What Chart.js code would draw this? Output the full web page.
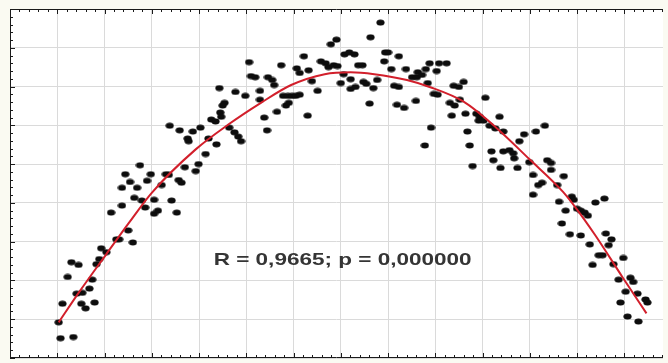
<!DOCTYPE html>
<html lang="en">
<head>
<meta charset="UTF-8">
<title>Scatter with quadratic fit</title>
<script src="https://cdn.jsdelivr.net/npm/chart.js"></script>
<style>
    body {
        margin: 0;
        padding: 0;
        background: #fafaf2;
    }
    canvas {
        display: block;
    }
</style>
</head>
<body>
<canvas id="fitChart" width="668" height="363"></canvas>
<script>
    // scatter points (grid step = 1 unit)
    const dotX = [
        1.03, 1.07, 1.34, 1.11, 1.51, 1.60, 1.79, 1.41, 1.53, 1.68,
        1.22, 1.74, 1.30, 1.45, 1.83, 1.89, 1.93, 2.04, 2.25, 2.31,
        2.50, 2.60, 2.14, 2.37, 2.37, 2.54, 2.63, 2.69, 2.79, 2.86,
        2.90, 3.05, 3.05, 3.13, 2.44, 2.75, 2.98, 3.21, 3.30, 3.36,
        3.42, 3.53, 3.57, 3.63, 3.70, 3.93, 3.99, 4.14, 3.38, 3.59,
        3.76, 3.78, 3.87, 4.03, 4.20, 4.37, 4.26, 4.35, 4.45, 4.47,
        4.54, 4.50, 4.43, 4.64, 4.75, 4.83, 4.89, 4.77, 4.98, 5.06,
        5.10, 5.19, 5.29, 5.29, 5.38, 5.44, 5.46, 5.55, 5.59, 5.65,
        5.74, 5.78, 5.88, 5.97, 6.05, 6.13, 5.84, 5.90, 6.07, 6.13,
        6.22, 6.32, 6.30, 6.39, 6.51, 6.58, 6.68, 6.74, 6.85, 6.93,
        6.79, 6.91, 7.00, 7.06, 7.08, 7.18, 7.29, 7.21, 7.21, 7.31,
        7.37, 7.46, 7.48, 7.54, 7.63, 7.84, 7.69, 7.77, 7.61, 7.94,
        8.00, 7.92, 8.07, 8.13, 8.23, 8.19, 8.34, 8.23, 8.38, 8.51,
        8.61, 8.59, 8.63, 8.72, 8.80, 8.84, 8.88, 9.08, 9.24, 9.03,
        8.97, 9.05, 8.91, 8.78, 9.39, 9.50, 9.60, 9.52, 10.06, 9.31,
        9.41, 9.35, 9.64, 9.87, 9.94, 9.92, 10.02, 10.36, 9.68, 10.15,
        10.27, 10.44, 10.88, 11.13, 11.32, 9.73, 10.78, 10.19, 10.23, 10.44,
        10.57, 10.65, 10.67, 10.99, 11.37, 11.45, 9.79, 10.38, 10.74, 11.45,
        11.07, 11.72, 11.18, 11.26, 11.07, 11.58, 11.62, 11.89, 11.93, 11.76,
        12.00, 12.08, 12.16, 12.23, 12.39, 12.58, 11.68, 11.85, 12.08, 12.27,
        12.61, 12.73, 12.67, 12.46, 12.54, 12.98, 12.33, 12.77, 12.88, 13.13,
        13.19, 13.03, 13.28, 13.45, 13.49, 12.92, 13.07, 13.30
    ];
    const dotY = [
        0.92, 0.51, 0.54, 1.40, 1.40, 1.28, 1.43, 1.66, 1.68, 1.79,
        2.09, 2.02, 2.47, 2.40, 2.42, 2.55, 2.83, 2.73, 3.06, 3.06,
        3.29, 2.98, 3.75, 3.93, 4.39, 4.54, 4.13, 4.39, 4.06, 3.88,
        4.57, 4.08, 3.72, 3.80, 4.74, 4.97, 4.74, 4.46, 4.74, 4.72,
        4.06, 3.75, 4.59, 4.52, 4.92, 4.82, 5.00, 5.26, 5.99, 5.87,
        5.66, 5.59, 5.84, 5.94, 5.66, 5.51, 6.15, 6.10, 6.33, 6.22,
        6.58, 6.51, 6.96, 5.94, 5.82, 5.71, 5.59, 6.86, 6.76, 7.63,
        7.27, 7.24, 6.89, 6.66, 6.20, 5.87, 7.24, 7.17, 7.04, 6.35,
        7.55, 6.76, 6.76, 6.76, 6.76, 6.79, 6.51, 6.58, 7.47, 7.35,
        7.78, 7.42, 6.25, 7.14, 6.89, 7.65, 7.60, 7.50, 7.55, 7.53,
        8.09, 8.21, 7.09, 7.32, 7.83, 7.88, 7.83, 7.19, 6.94, 6.99,
        7.55, 7.55, 7.12, 7.07, 8.27, 8.65, 6.96, 7.17, 6.56, 7.88,
        7.88, 7.65, 7.45, 7.02, 6.99, 6.53, 6.45, 7.78, 7.45, 7.24,
        7.24, 6.63, 7.37, 7.30, 7.45, 7.09, 7.60, 7.60, 7.60, 7.40,
        6.81, 6.79, 5.94, 5.48, 7.02, 6.99, 7.12, 6.66, 6.71, 6.58,
        6.51, 6.25, 6.30, 6.30, 6.22, 6.12, 6.12, 6.22, 5.84, 5.99,
        5.92, 5.84, 5.77, 5.84, 5.99, 5.48, 5.59, 5.33, 5.10, 5.33,
        5.36, 5.28, 5.15, 5.05, 5.10, 5.03, 4.95, 4.90, 4.90, 4.85,
        4.72, 4.69, 4.46, 4.52, 4.21, 4.46, 4.03, 4.16, 4.08, 3.80,
        3.85, 3.80, 3.75, 3.67, 4.01, 4.11, 3.47, 3.19, 3.16, 2.93,
        3.21, 3.06, 2.91, 2.65, 2.65, 2.58, 2.40, 2.42, 2.02, 2.07,
        1.96, 1.71, 1.66, 1.51, 1.43, 1.43, 1.07, 0.94
    ];

    // fitted curve, read at a few places along the red line
    const fitX = [1.03, 1.47, 2.04, 2.52, 3.00, 3.93, 4.62, 5.31, 5.95, 6.66, 7.21,
                  7.71, 8.40, 8.88, 9.60, 10.29, 10.99, 11.70, 11.97, 12.39, 12.96, 13.47];
    const fitY = [0.92, 1.71, 2.68, 3.49, 4.26, 5.38, 6.02, 6.58, 7.04, 7.32, 7.37,
                  7.32, 7.17, 6.99, 6.61, 5.94, 5.13, 4.29, 3.88, 3.16, 2.09, 1.15];

    // axis ranges (no tick labels visible in the picture)
    const xRange = [0, 13.82];
    const yRange = [0, 9];
    const gridStep = 1;
    const minorPerStep = 5;

    const statText = 'R = 0,9665; p = 0,000000';
    const statFrom = 4.31;   // x where the text starts
    const statTo = 9.77;     // x where the text ends
    const statY = 2.53;

    // small ellipse marker, slightly wider than tall
    const dotImg = document.createElement('canvas');
    dotImg.width = 9;
    dotImg.height = 7;
    const dctx = dotImg.getContext('2d');
    dctx.fillStyle = '#0d0d0d';
    dctx.beginPath();
    dctx.ellipse(4.5, 3.5, 4.1, 3.0, 0, 0, Math.PI * 2);
    dctx.fill();

    const framePlugin = {
        id: 'frame',
        beforeDraw(chart) {
            const { ctx, chartArea: a } = chart;
            ctx.save();
            ctx.fillStyle = '#ffffff';
            ctx.fillRect(a.left, a.top, a.right - a.left, a.bottom - a.top);
            ctx.restore();
        },
        afterDraw(chart) {
            const { ctx, chartArea: a, scales } = chart;
            const xs = scales.x, ys = scales.y;
            ctx.save();
            ctx.strokeStyle = '#1a1a1a';
            ctx.lineWidth = 1;
            ctx.beginPath();
            ctx.moveTo(a.left + 0.5, a.top + 0.5);
            ctx.lineTo(a.left + 0.5, a.bottom - 0.5);
            ctx.moveTo(a.left, a.top + 0.5);
            ctx.lineTo(a.right, a.top + 0.5);
            ctx.moveTo(a.left, a.bottom - 0.5);
            ctx.lineTo(a.right, a.bottom - 0.5);

            // inward ticks, minor ones between grid lines
            const minor = gridStep / minorPerStep;
            for (let i = 0; xRange[0] + i * minor <= xRange[1]; i++) {
                const px = Math.round(xs.getPixelForValue(xRange[0] + i * minor)) + 0.5;
                const len = i % minorPerStep === 0 ? 5 : 3;
                ctx.moveTo(px, a.top);
                ctx.lineTo(px, a.top + len);
                ctx.moveTo(px, a.bottom);
                ctx.lineTo(px, a.bottom - len);
            }
            for (let i = 0; yRange[0] + i * minor <= yRange[1] + 1e-9; i++) {
                const py = Math.round(ys.getPixelForValue(yRange[0] + i * minor)) + 0.5;
                const len = i % minorPerStep === 0 ? 5 : 3;
                ctx.moveTo(a.left, py);
                ctx.lineTo(a.left + len, py);
            }
            ctx.stroke();

            // statistics label, stretched like the source picture
            ctx.font = 'bold 17px "Liberation Sans", Arial, sans-serif';
            ctx.fillStyle = '#353535';
            ctx.textBaseline = 'middle';
            const w = ctx.measureText(statText).width;
            const left = xs.getPixelForValue(statFrom);
            const right = xs.getPixelForValue(statTo);
            ctx.translate(left, ys.getPixelForValue(statY));
            ctx.scale((right - left) / w, 1);
            ctx.fillText(statText, 0, 0);
            ctx.restore();
        }
    };

    const dots = dotX.map((x, i) => ({ x: x, y: dotY[i] }));
    const fit = fitX.map((x, i) => ({ x: x, y: fitY[i] }));

    const ctx = document.getElementById('fitChart').getContext('2d');
    const fitChart = new Chart(ctx, {
        type: 'scatter',
        data: {
            datasets: [
                {
                    type: 'line',
                    data: fit,
                    borderColor: '#d21f2b',
                    borderWidth: 2,
                    pointRadius: 0,
                    fill: false,
                    cubicInterpolationMode: 'monotone'
                },
                {
                    data: dots,
                    pointStyle: dotImg,
                    pointRadius: 4
                }
            ]
        },
        options: {
            responsive: false,
            animation: false,
            devicePixelRatio: 1,
            layout: {
                padding: { left: 10, top: 9, right: 0, bottom: 1 }
            },
            plugins: {
                legend: { display: false },
                tooltip: { enabled: false }
            },
            scales: {
                x: {
                    type: 'linear',
                    min: xRange[0],
                    max: xRange[1],
                    ticks: { display: false, stepSize: gridStep, includeBounds: false },
                    grid: { color: '#dadada', drawTicks: false },
                    border: { display: false }
                },
                y: {
                    type: 'linear',
                    min: yRange[0],
                    max: yRange[1],
                    ticks: { display: false, stepSize: gridStep },
                    grid: { color: '#dadada', drawTicks: false },
                    border: { display: false }
                }
            }
        },
        plugins: [framePlugin]
    });
</script>
</body>
</html>
